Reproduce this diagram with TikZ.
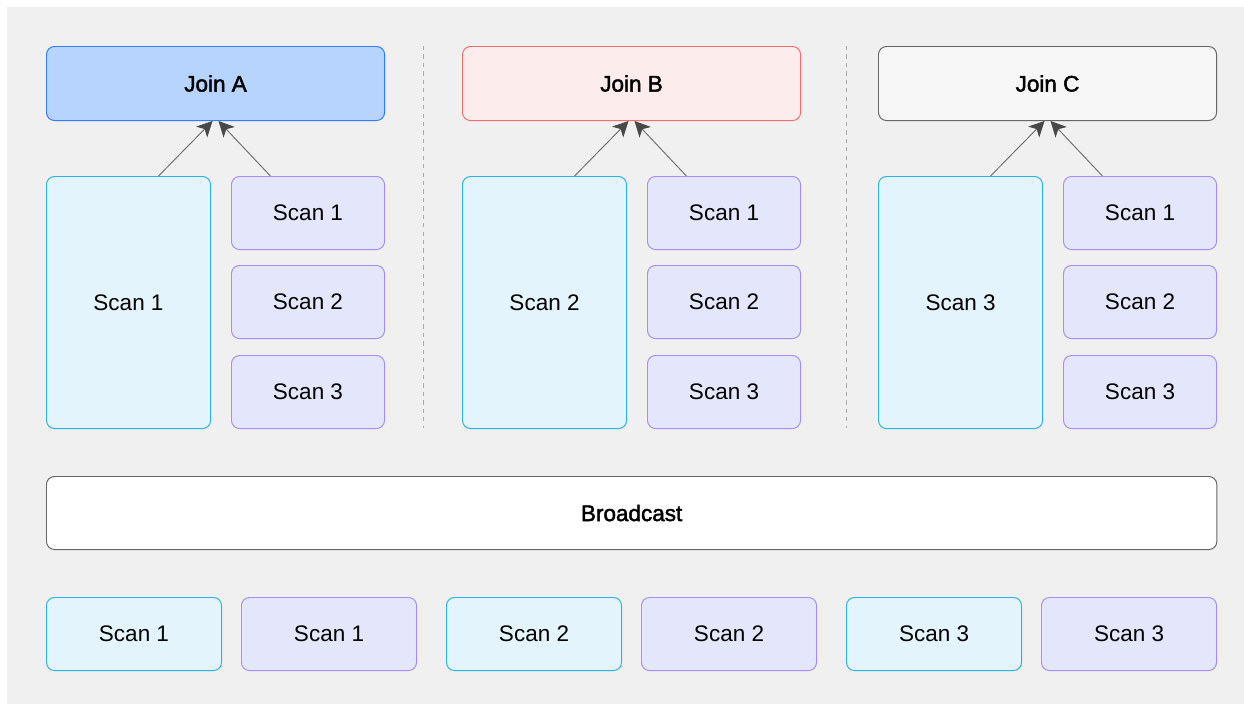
\documentclass[tikz,border=0pt]{standalone}
\usepackage{fontspec}
\setmainfont{Liberation Sans}
\newfontfamily\medfont{Liberation Sans}[FakeBold=2]
\usetikzlibrary{arrows.meta}

\definecolor{panel}{RGB}{240,240,240}
\definecolor{joinAfill}{RGB}{182,212,255}
\definecolor{joinAline}{RGB}{48,125,246}
\definecolor{joinBfill}{RGB}{253,236,236}
\definecolor{joinBline}{RGB}{240,112,112}
\definecolor{joinCfill}{RGB}{247,247,247}
\definecolor{joinCline}{RGB}{102,102,102}
\definecolor{cyanfill}{RGB}{227,244,252}
\definecolor{cyanline}{RGB}{40,180,230}
\definecolor{violetfill}{RGB}{228,231,252}
\definecolor{violetline}{RGB}{170,140,245}
\definecolor{arrowgrey}{RGB}{100,100,100}
\definecolor{tipgrey}{RGB}{72,72,72}
\definecolor{dashgrey}{RGB}{170,170,170}

\tikzset{
  box/.style={draw, rounded corners=0.2cm, line width=0.7pt, anchor=north west,
    inner sep=0pt, font=\fontsize{16}{19}\selectfont},
  medbox/.style={box, font=\medfont\fontsize{16}{19}\selectfont},
  cyanbox/.style={box, fill=cyanfill, draw=cyanline},
  violetbox/.style={box, fill=violetfill, draw=violetline},
  feed/.style={draw=arrowgrey, line width=0.6pt,
    -{Stealth[length=11pt,width=11pt,inset=3pt,color=tipgrey]}},
}

\begin{document}
\begin{tikzpicture}[x=0.025cm, y=-0.025cm]

    \useasboundingbox (0,0) rectangle (1244,704);
    \fill[panel] (7,7) rectangle (1244,704);

    \foreach \name/\x/\n in {A/46/1, B/462/2, C/878/3}{
        \node[medbox, fill=join\name fill, draw=join\name line,
              minimum width=8.45cm, minimum height=1.85cm] (join\name) at (\x,46) {Join \name};
        \node[cyanbox, minimum width=4.1cm, minimum height=6.3cm] (big\name) at (\x,176) {Scan \n};
        \node[violetbox, minimum width=3.825cm, minimum height=1.825cm] (scan\name1) at (\x+185,176) {Scan 1};
        \node[violetbox, minimum width=3.825cm, minimum height=1.825cm] (scan\name2) at (\x+185,265) {Scan 2};
        \node[violetbox, minimum width=3.825cm, minimum height=1.825cm] (scan\name3) at (\x+185,355) {Scan 3};

        \draw[feed] ([xshift=0.75cm]big\name.north) -- ([xshift=-0.075cm]join\name.south);
        \draw[feed] ([xshift=-0.94cm]scan\name1.north) -- ([xshift=0.075cm]join\name.south);
    }

    % column separators
    \foreach \x in {423, 846}
        \draw[dashgrey, line width=0.6pt, dash pattern=on 3pt off 3pt] (\x,46) -- (\x,428);

    \node[medbox, fill=white, draw=joinCline,
          minimum width=29.25cm, minimum height=1.825cm] (bcast) at (46,476) {Broadcast};

    \foreach \i/\x/\n/\st in {1/46/1/cyanbox, 2/241/1/violetbox, 3/446/2/cyanbox,
                              4/641/2/violetbox, 5/846/3/cyanbox, 6/1041/3/violetbox}
        \node[\st, minimum width=4.375cm, minimum height=1.825cm] (bot\i) at (\x,597) {Scan \n};

\end{tikzpicture}
\end{document}
